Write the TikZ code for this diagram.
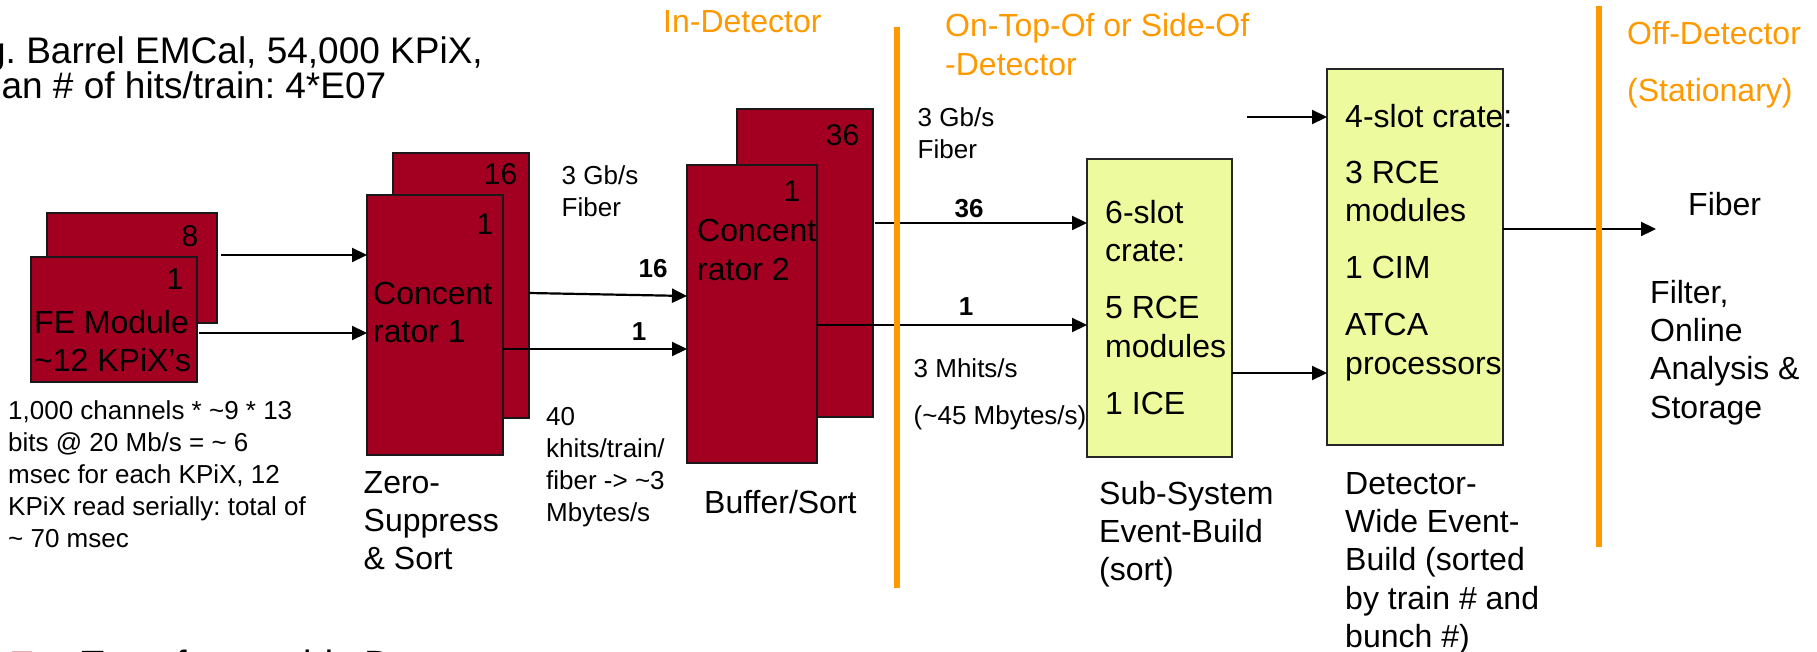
\documentclass[tikz,border=0pt]{standalone}
\usepackage{fontspec}
\setmainfont{Liberation Sans}
\usetikzlibrary{arrows.meta}
\definecolor{boxred}{RGB}{163,0,33}
\definecolor{crateyellow}{RGB}{238,250,158}
\definecolor{zoneorange}{RGB}{255,153,0}
\definecolor{bulletpink}{RGB}{236,170,178}
\frenchspacing

\begin{document}
\begin{tikzpicture}[x=1pt,y=-1pt,
  redbox/.style={draw=black!90, line width=2pt, fill=boxred, inner sep=0pt, outer sep=0pt, anchor=north west},
  cratebox/.style={draw=black!85, line width=2pt, fill=crateyellow, inner sep=0pt, outer sep=0pt, anchor=north west},
  arr/.style={line width=2.2pt, -{Triangle[length=15pt,width=14pt]}},
  zoneline/.style={draw=zoneorange, line width=6pt},
  % multi-line texts are placed by the baseline of their last line
  txt/.style={inner sep=0pt, anchor=base west, align=left, text=black},
  big/.style={txt, font=\fontsize{32}{38.4}\selectfont},
  small/.style={txt, font=\fontsize{26}{32}\selectfont},
  num/.style={inner sep=0pt, anchor=base, font=\fontsize{30}{36}\selectfont},
  bnum/.style={inner sep=0pt, anchor=base, font=\bfseries\fontsize{26}{32}\selectfont},
  zone/.style={txt, text=zoneorange, font=\fontsize{32}{38.4}\selectfont},
]
\useasboundingbox (0,0) rectangle (1817,652);

% front-end modules
\node[redbox, minimum width=170pt, minimum height=110pt] (FEback) at (47,213) {};
\node[redbox, minimum width=166pt, minimum height=125pt] (FEfront) at (31,257) {};
% concentrator 1
\node[redbox, minimum width=136pt, minimum height=265pt] (C1back) at (393,153) {};
\node[redbox, minimum width=136pt, minimum height=260pt] (C1front) at (367,195) {};
% concentrator 2
\node[redbox, minimum width=136pt, minimum height=308pt] (C2back) at (737,109) {};
\node[redbox, minimum width=130pt, minimum height=298pt] (C2front) at (687,165) {};
% crates
\node[cratebox, minimum width=145pt, minimum height=298pt] (slot6) at (1087,159) {};
\node[cratebox, minimum width=176pt, minimum height=376pt] (slot4) at (1327,69) {};

% data links
\draw[arr] ([xshift=4pt,yshift=13pt]FEback.east) coordinate (a1) -- (C1front.west |- a1);
\draw[arr] ([xshift=2pt,yshift=-13.5pt]FEfront.east) coordinate (a2) -- (C1front.west |- a2);
\draw[arr] ([yshift=-7.5pt]C1back.east) -- ([yshift=18pt]C2front.west);
\draw[arr] ([yshift=-24pt]C1front.east) coordinate (a4) -- (C2front.west |- a4);
\draw[arr] ([xshift=2pt,yshift=40pt]C2back.east) coordinate (a5) -- (slot6.west |- a5);
\draw[arr] ([yshift=-11pt]C2front.east) coordinate (a6) -- (slot6.west |- a6);
\draw[arr] ([yshift=-65pt]slot6.east) coordinate (a7) -- (slot4.west |- a7);
\coordinate (in4) at (1247,117);
\draw[arr] (in4) -- (slot4.west |- in4);
\coordinate (fibtip) at (1656,229);
\draw[arr] (slot4.east |- fibtip) -- (fibtip);

% zone dividers
\coordinate (z1top) at (897,27);
\coordinate (z1bot) at (897,588);
\coordinate (z2top) at (1599,6);
\coordinate (z2bot) at (1599,547);
\draw[zoneline] (z1top) -- (z1bot);
\draw[zoneline] (z2top) -- (z2bot);

% zone headings
\node[zone] (inDet) at (663,33) {In-Detector};
\node[zone] (onTop) at (945,75.4) {On-Top-Of or Side-Of\\-Detector};
\node[zone] (offDet) at (1627,102) {Off-Detector\\[18.6pt](Stationary)};

% heading
\node[txt, font=\fontsize{37}{34}\selectfont] (title) at (-50,99) {E.g. Barrel EMCal, 54,000 KPiX,\\Mean \# of hits/train: 4*E07};

% box counts
\node[num] (n8) at (190,247) {8};
\node[num] (nFE1) at (175,290) {1};
\node[num] (n16) at (500.5,185) {16};
\node[num] (nC1one) at (485,235) {1};
\node[num] (n36) at (842.5,146) {36};
\node[num] (nC2one) at (792,202) {1};

% box contents
\node[big] (feTxt) at (34,371.4) {FE Module\\\textasciitilde12 KPiX’s};
\node[big] (c1Txt) at (373,342.4) {Concent\\rator 1};
\node[big] (c2Txt) at (697,280.4) {Concent\\rator 2};
\node[big] (s6Txt) at (1105,414.6) {6-slot\\crate:\\[19pt]5 RCE\\modules\\[19pt]1 ICE};
\node[big] (s4Txt) at (1345,374) {4-slot crate:\\[18pt]3 RCE\\modules\\[18pt]1 CIM\\[19pt]ATCA\\processors};

% stage captions
\node[big] (zsLbl) at (363.5,569.8) {Zero-\\Suppress\\\& Sort};
\node[big] (bsLbl) at (704,513) {Buffer/Sort};
\node[big] (ssLbl) at (1099,580.8) {Sub-System\\Event-Build\\(sort)};
\node[big] (dwLbl) at (1345,647.6) {Detector-\\Wide Event-\\Build (sorted\\by train \# and\\bunch \#)};
\node[big] (fibOut) at (1688,216) {Fiber};
\node[big] (storLbl) at (1650,418.2) {Filter,\\Online\\Analysis \&\\Storage};

% link notes
\node[small] (feNote) at (8,547) {1,000 channels * \textasciitilde9 * 13\\bits @ 20 Mb/s = \textasciitilde\ 6\\msec for each KPiX, 12\\KPiX read serially: total of\\\textasciitilde\ 70 msec};
\node[small] (fibNote) at (546,521) {40\\khits/train/\\fiber -> \textasciitilde3\\Mbytes/s};
\node[small] (gb1) at (561.5,217) {3 Gb/s\\Fiber};
\node[small] (gb2) at (917.5,159) {3 Gb/s\\Fiber};
\node[small] (mhits) at (913.5,424) {3 Mhits/s\\[15pt](\textasciitilde45 Mbytes/s)};

% link multiplicities
\node[bnum] (b16) at (653,277) {16};
\node[bnum] (b1a) at (639,340) {1};
\node[bnum] (b36) at (969,218) {36};
\node[bnum] (b1b) at (966,315) {1};

% next bullet line
\fill[bulletpink] (12,650.5) rectangle (32,672);
\node[txt, font=\fontsize{38}{44}\selectfont] (xfer) at (81,677) {Transfer outside Detector};
\end{tikzpicture}
\end{document}
